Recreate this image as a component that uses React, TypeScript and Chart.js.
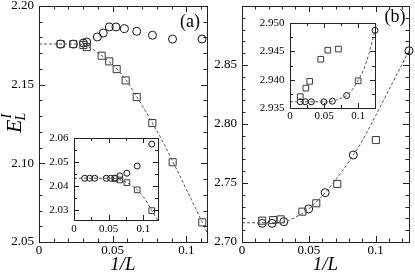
import React, { useEffect, useRef } from 'react';
import { Chart, registerables } from 'chart.js';

Chart.register(...registerables);

const SERIF = "'Liberation Serif', 'Times New Roman', Times, serif";
const FRAME_COLOR = '#222';
const FIT_COLOR = '#555';
const CIRCLE_COLOR = '#111';
const SQUARE_COLOR = '#3a3a3a';

// ---------------- Panel (a) main ----------------
const aCircX = [0.0147, 0.0233, 0.0301, 0.0324, 0.0396, 0.0436, 0.0477, 0.0522, 0.058, 0.0663, 0.077, 0.0906, 0.1106];
const aCircY = [2.1758, 2.1758, 2.1765, 2.1771, 2.1803, 2.1828, 2.1867, 2.1867, 2.1856, 2.1839, 2.1814, 2.179, 2.179];
const aSqX = [0.0147, 0.0233, 0.0301, 0.0324, 0.0425, 0.0477, 0.0527, 0.0588, 0.0663, 0.0769, 0.0907, 0.1108];
const aSqY = [2.1758, 2.1758, 2.1752, 2.1739, 2.1684, 2.1648, 2.1599, 2.1527, 2.1421, 2.1256, 2.1007, 2.0625];
const aFitX = [0, 0.025, 0.03, 0.035, 0.04, 0.045, 0.05, 0.055, 0.06, 0.065, 0.07, 0.077, 0.085, 0.091, 0.1, 0.1108, 0.114];
const aFitY = [2.1758, 2.1758, 2.1754, 2.1734, 2.1703, 2.1667, 2.1625, 2.1578, 2.1518, 2.1443, 2.1368, 2.1256, 2.112, 2.1007, 2.0835, 2.0625, 2.056];
const aXTicks = [0, 0.05, 0.1];
const aXLabels = ['0', '0.05', '0.1'];
const aYTicks = [2.05, 2.1, 2.15, 2.2];
const aYLabels = ['2.05', '2.10', '2.15', '2.20'];

// ---------------- Panel (a) inset ----------------
const iaCircX = [0.0154, 0.0226, 0.0298, 0.0465, 0.0528, 0.059, 0.066, 0.0762, 0.091, 0.112];
const iaCircY = [2.0433, 2.0433, 2.0433, 2.0433, 2.0433, 2.0434, 2.0443, 2.0454, 2.0484, 2.0575];
const iaSqX = [0.059, 0.066, 0.0762, 0.091, 0.112];
const iaSqY = [2.0432, 2.0426, 2.0415, 2.0385, 2.0299];
const iaFitX = [0, 0.055, 0.06, 0.066, 0.07, 0.0762, 0.085, 0.091, 0.1, 0.106, 0.112, 0.121];
const iaFitY = [2.0433, 2.0433, 2.0432, 2.0427, 2.0423, 2.0415, 2.0398, 2.0385, 2.0356, 2.033, 2.0299, 2.0258];
const iaXTicks = [0, 0.05, 0.1];
const iaXLabels = ['0', '0.05', '0.1'];
const iaYTicks = [2.03, 2.04, 2.05, 2.06];
const iaYLabels = ['2.03', '2.04', '2.05', '2.06'];

// ---------------- Panel (b) main ----------------
const bCircX = [0.0151, 0.0225, 0.0313, 0.0499, 0.0623, 0.0833, 0.125];
const bCircY = [2.7158, 2.7158, 2.7172, 2.728, 2.7418, 2.7737, 2.8621];
const bSqX = [0.0151, 0.0233, 0.029, 0.0452, 0.0556, 0.0713, 0.1002];
const bSqY = [2.7181, 2.7186, 2.7192, 2.7257, 2.7328, 2.7492, 2.7864];
const bFitX = [0, 0.02, 0.03, 0.04, 0.05, 0.06, 0.0623, 0.07, 0.08, 0.0833, 0.09, 0.1, 0.11, 0.125];
const bFitY = [2.7163, 2.7163, 2.7168, 2.721, 2.728, 2.739, 2.7418, 2.7525, 2.768, 2.7737, 2.7858, 2.807, 2.829, 2.8621];
const bXTicks = [0, 0.05, 0.1];
const bXLabels = ['0', '0.05', '0.1'];
const bYTicks = [2.7, 2.75, 2.8, 2.85];
const bYLabels = ['2.70', '2.75', '2.80', '2.85'];

// ---------------- Panel (b) inset ----------------
const ibCircX = [0.0151, 0.0225, 0.0313, 0.0499, 0.0623, 0.0833, 0.125];
const ibCircY = [2.9361, 2.9361, 2.9361, 2.9361, 2.9362, 2.9372, 2.9487];
const ibSqX = [0.0151, 0.0233, 0.029, 0.0452, 0.0556, 0.0713, 0.1002];
const ibSqY = [2.937, 2.9385, 2.9397, 2.9436, 2.9452, 2.9454, 2.9398];
const ibFitX = [0, 0.055, 0.0623, 0.07, 0.0833, 0.09, 0.1, 0.108, 0.116, 0.125];
const ibFitY = [2.9361, 2.9361, 2.9362, 2.9365, 2.9372, 2.938, 2.9398, 2.9417, 2.9446, 2.9487];
const ibXTicks = [0, 0.05, 0.1];
const ibXLabels = ['0', '0.05', '0.1'];
const ibYTicks = [2.935, 2.94, 2.945, 2.95];
const ibYLabels = ['2.935', '2.940', '2.945', '2.950'];

const xTitleText = '1/L';
const panelALabel = '(a)';
const panelBLabel = '(b)';
const yTitleMain = 'E';
const yTitleSup = 'I';
const yTitleSub = 'L';

type Series = { x: number[]; y: number[]; kind: 'fit' | 'circle' | 'square'; r?: number };
type Box = { left: number; top: number; width: number; height: number };
type Spec = {
  box: Box;
  m: { l: number; t: number; r: number; b: number };
  xMin: number; xMax: number; yMin: number; yMax: number;
  xTicks: number[]; xLabels: string[]; yTicks: number[]; yLabels: string[];
  xMinor: number; yMinor: number;
  fontSize: number; xPad: number; yPad: number;
  majorLen: number; minorLen: number;
  xTitle?: string;
  series: Series[];
  decor?: (ctx: CanvasRenderingContext2D, toC: (x: number, y: number) => [number, number]) => void;
};

function steps(min: number, max: number, step: number) {
  const out: number[] = [];
  for (let k = Math.ceil(min / step - 1e-6); k * step <= max + 1e-9; k++) out.push(k * step);
  return out;
}

function makePlugin(s: Spec) {
  return {
    id: 'frameTicks',
    afterDatasetsDraw(chart: any) {
      const { ctx, chartArea } = chart;
      const xs = chart.scales.x;
      const ys = chart.scales.y;
      const L = Math.round(chartArea.left);
      const R = Math.round(chartArea.right);
      const T = Math.round(chartArea.top);
      const B = Math.round(chartArea.bottom);
      const isMajor = (list: number[], v: number) => list.some((m) => Math.abs(m - v) < 1e-7);
      ctx.save();
      ctx.setLineDash([]);
      ctx.strokeStyle = FRAME_COLOR;
      ctx.lineWidth = 1;
      ctx.beginPath();
      for (const v of steps(s.xMin, s.xMax, s.xMinor)) {
        const p = Math.round(xs.getPixelForValue(v)) + 0.5;
        const len = isMajor(s.xTicks, v) ? s.majorLen : s.minorLen;
        ctx.moveTo(p, B);
        ctx.lineTo(p, B - len);
        ctx.moveTo(p, T);
        ctx.lineTo(p, T + len);
      }
      for (const v of steps(s.yMin, s.yMax, s.yMinor)) {
        const p = Math.round(ys.getPixelForValue(v)) + 0.5;
        const len = isMajor(s.yTicks, v) ? s.majorLen : s.minorLen;
        ctx.moveTo(L, p);
        ctx.lineTo(L + len, p);
        ctx.moveTo(R, p);
        ctx.lineTo(R - len, p);
      }
      ctx.stroke();
      ctx.strokeRect(L + 0.5, T + 0.5, R - L, B - T);
      ctx.restore();
    },
    afterDraw(chart: any) {
      if (!s.decor) return;
      const ctx = chart.ctx;
      ctx.save();
      s.decor(ctx, (x, y) => [x - s.box.left, y - s.box.top]);
      ctx.restore();
    },
  };
}

function buildConfig(s: Spec): any {
  const datasets = s.series.map((ser) => {
    const data = ser.x.map((x, i) => ({ x, y: ser.y[i] }));
    if (ser.kind === 'fit') {
      return {
        data,
        showLine: true,
        borderColor: FIT_COLOR,
        borderWidth: 1,
        borderDash: [3, 2],
        pointRadius: 0,
        cubicInterpolationMode: 'monotone',
        fill: false,
        clip: false,
      };
    }
    const col = ser.kind === 'circle' ? CIRCLE_COLOR : SQUARE_COLOR;
    return {
      data,
      showLine: false,
      pointStyle: ser.kind === 'circle' ? 'circle' : 'rect',
      pointRadius: ser.r,
      pointBorderColor: col,
      pointBackgroundColor: 'rgba(0,0,0,0)',
      pointBorderWidth: 1,
      borderColor: col,
      backgroundColor: 'rgba(0,0,0,0)',
      clip: false,
    };
  });
  const tickFont = { family: SERIF, size: s.fontSize };
  return {
    type: 'scatter',
    data: { datasets },
    options: {
      responsive: false,
      animation: false,
      events: [],
      layout: { padding: { top: s.m.t, right: s.m.r, left: 0, bottom: 0 } },
      plugins: { legend: { display: false }, tooltip: { enabled: false } },
      scales: {
        x: {
          type: 'linear',
          min: s.xMin,
          max: s.xMax,
          grid: { display: false, drawTicks: false },
          border: { display: false },
          afterBuildTicks: (sc: any) => {
            sc.ticks = s.xTicks.map((v) => ({ value: v }));
          },
          afterFit: (sc: any) => {
            sc.height = s.m.b;
          },
          ticks: {
            callback: (_v: any, i: number) => s.xLabels[i],
            padding: s.xPad,
            font: tickFont,
            color: '#000',
            maxRotation: 0,
            autoSkip: false,
          },
          title: s.xTitle
            ? {
                display: true,
                text: s.xTitle,
                color: '#000',
                font: { family: SERIF, size: 19, style: 'italic', lineHeight: 1 },
                padding: 0,
              }
            : { display: false },
        },
        y: {
          type: 'linear',
          min: s.yMin,
          max: s.yMax,
          grid: { display: false, drawTicks: false },
          border: { display: false },
          afterBuildTicks: (sc: any) => {
            sc.ticks = s.yTicks.map((v) => ({ value: v }));
          },
          afterFit: (sc: any) => {
            sc.width = s.m.l;
          },
          ticks: {
            callback: (_v: any, i: number) => s.yLabels[i],
            padding: s.yPad,
            font: tickFont,
            color: '#000',
            autoSkip: false,
          },
        },
      },
    },
    plugins: [makePlugin(s)],
  };
}

const specA: Spec = {
  box: { left: 0, top: -14, width: 215, height: 288 },
  m: { l: 39, t: 20, r: 8, b: 32 },
  xMin: 0, xMax: 0.114, yMin: 2.05, yMax: 2.2,
  xTicks: aXTicks, xLabels: aXLabels, yTicks: aYTicks, yLabels: aYLabels,
  xMinor: 0.01, yMinor: 0.01,
  fontSize: 13, xPad: 1, yPad: 5,
  majorLen: 6, minorLen: 3.5,
  xTitle: xTitleText,
  series: [
    { x: aFitX, y: aFitY, kind: 'fit' },
    { x: aSqX, y: aSqY, kind: 'square', r: 5 },
    { x: aCircX, y: aCircY, kind: 'circle', r: 4 },
  ],
  decor: (ctx, toC) => {
    ctx.fillStyle = '#000';
    ctx.font = `18px ${SERIF}`;
    ctx.textAlign = 'center';
    ctx.textBaseline = 'alphabetic';
    const [ax, ay] = toC(190, 26.5);
    ctx.fillText(panelALabel, ax, ay);
    const [ex, ey] = toC(20.5, 133);
    ctx.translate(ex, ey);
    ctx.rotate(-Math.PI / 2);
    ctx.textAlign = 'left';
    ctx.font = `italic 22px ${SERIF}`;
    ctx.fillText(yTitleMain, 0, 0);
    const w = ctx.measureText(yTitleMain).width;
    ctx.font = `italic 14px ${SERIF}`;
    ctx.fillText(yTitleSup, w + 1, -10);
    ctx.fillText(yTitleSub, w - 1, 4);
  },
};

const specIA: Spec = {
  box: { left: 39, top: 123, width: 129, height: 115 },
  m: { l: 35, t: 15, r: 10, b: 18 },
  xMin: 0, xMax: 0.121, yMin: 2.026, yMax: 2.06,
  xTicks: iaXTicks, xLabels: iaXLabels, yTicks: iaYTicks, yLabels: iaYLabels,
  xMinor: 0.025, yMinor: 0.005,
  fontSize: 11, xPad: 2.5, yPad: 5.5,
  majorLen: 5, minorLen: 3,
  series: [
    { x: iaFitX, y: iaFitY, kind: 'fit' },
    { x: iaSqX, y: iaSqY, kind: 'square', r: 4 },
    { x: iaCircX, y: iaCircY, kind: 'circle', r: 3 },
  ],
};

const specB: Spec = {
  box: { left: 202, top: -14, width: 213, height: 288 },
  m: { l: 40, t: 20, r: 5, b: 32 },
  xMin: 0, xMax: 0.125, yMin: 2.7, yMax: 2.9,
  xTicks: bXTicks, xLabels: bXLabels, yTicks: bYTicks, yLabels: bYLabels,
  xMinor: 0.01, yMinor: 0.01,
  fontSize: 13, xPad: 1, yPad: 5,
  majorLen: 6, minorLen: 3.5,
  xTitle: xTitleText,
  series: [
    { x: bFitX, y: bFitY, kind: 'fit' },
    { x: bSqX, y: bSqY, kind: 'square', r: 5 },
    { x: bCircX, y: bCircY, kind: 'circle', r: 4 },
  ],
  decor: (ctx, toC) => {
    ctx.fillStyle = '#000';
    ctx.font = `18px ${SERIF}`;
    ctx.textAlign = 'center';
    ctx.textBaseline = 'alphabetic';
    const [bx, by] = toC(395, 22);
    ctx.fillText(panelBLabel, bx, by);
  },
};

const specIB: Spec = {
  box: { left: 250, top: 8, width: 133, height: 115 },
  m: { l: 40, t: 15, r: 8, b: 15 },
  xMin: 0, xMax: 0.125, yMin: 2.935, yMax: 2.95,
  xTicks: ibXTicks, xLabels: ibXLabels, yTicks: ibYTicks, yLabels: ibYLabels,
  xMinor: 0.025, yMinor: 0.0025,
  fontSize: 11, xPad: 1.5, yPad: 5.5,
  majorLen: 5, minorLen: 3,
  series: [
    { x: ibFitX, y: ibFitY, kind: 'fit' },
    { x: ibSqX, y: ibSqY, kind: 'square', r: 4 },
    { x: ibCircX, y: ibCircY, kind: 'circle', r: 3 },
  ],
};

function ChartBox({ spec }: { spec: Spec }) {
  const ref = useRef<HTMLCanvasElement | null>(null);
  useEffect(() => {
    if (!ref.current) return;
    const chart = new Chart(ref.current, buildConfig(spec));
    return () => chart.destroy();
  }, [spec]);
  const { left, top, width, height } = spec.box;
  return (
    <canvas
      ref={ref}
      width={width}
      height={height}
      style={{ position: 'absolute', left, top, width, height, display: 'block' }}
    />
  );
}

export default function App() {
  return (
    <div
      style={{
        position: 'fixed',
        left: 0,
        top: 0,
        width: 415,
        height: 274,
        overflow: 'hidden',
        background: '#fff',
      }}
    >
      <ChartBox spec={specA} />
      <ChartBox spec={specIA} />
      <ChartBox spec={specB} />
      <ChartBox spec={specIB} />
    </div>
  );
}
